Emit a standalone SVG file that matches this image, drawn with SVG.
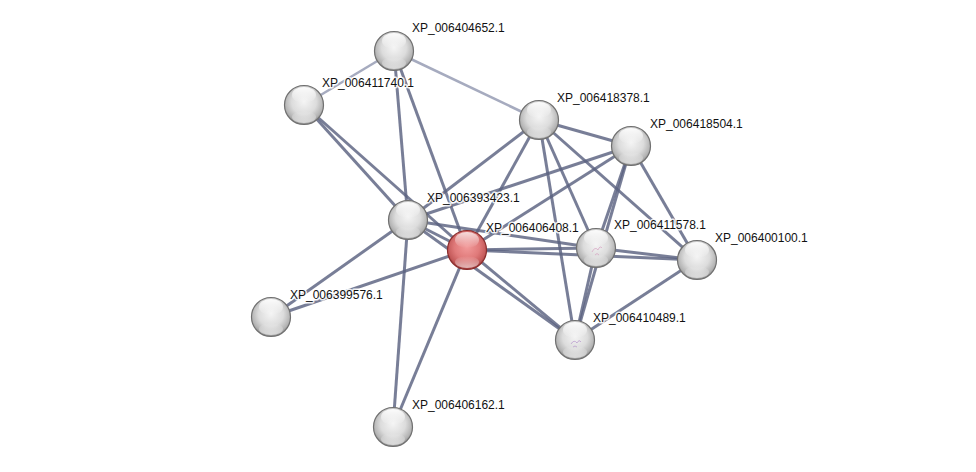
<svg xmlns="http://www.w3.org/2000/svg" width="976" height="472" viewBox="0 0 976 472">
<defs>
<radialGradient id="gw" cx="50%" cy="42%" r="58%">
<stop offset="0" stop-color="#f4f4f4"/>
<stop offset="0.55" stop-color="#dcdcdc"/>
<stop offset="0.85" stop-color="#b4b4b4"/>
<stop offset="1" stop-color="#8c8c8c"/>
</radialGradient>
<radialGradient id="gr" cx="50%" cy="42%" r="58%">
<stop offset="0" stop-color="#f29a9a"/>
<stop offset="0.55" stop-color="#e07a7a"/>
<stop offset="0.85" stop-color="#c45a5a"/>
<stop offset="1" stop-color="#9a3434"/>
</radialGradient>
<linearGradient id="hl" x1="0" y1="0" x2="0" y2="1">
<stop offset="0" stop-color="#fff" stop-opacity="0.95"/>
<stop offset="1" stop-color="#fff" stop-opacity="0"/>
</linearGradient>
<linearGradient id="bl" x1="0" y1="0" x2="0" y2="1">
<stop offset="0" stop-color="#fff" stop-opacity="0"/>
<stop offset="1" stop-color="#fff" stop-opacity="0.6"/>
</linearGradient>
<g id="sph">
<circle r="19.5" fill="url(#gw)" stroke="#707070" stroke-width="1.2"/>
<ellipse cx="0" cy="-10" rx="12" ry="8" fill="url(#hl)"/>
<ellipse cx="0" cy="12" rx="12" ry="6" fill="url(#bl)"/>
</g>
<g id="sphr">
<circle r="19.5" fill="url(#gr)" stroke="#8a2e2e" stroke-width="1.2"/>
<ellipse cx="0" cy="-10" rx="12" ry="8" fill="url(#hl)" opacity="0.8"/>
<ellipse cx="0" cy="12" rx="12" ry="6" fill="url(#bl)"/>
</g>
</defs>
<style>
.e{stroke:#5a6280;stroke-width:3;stroke-opacity:0.82;fill:none}
.l{stroke:#a6abbf;stroke-width:2.5;fill:none}
text{font-family:"Liberation Sans",Arial,sans-serif;font-size:12px;fill:#111;stroke:#fff;stroke-width:3;stroke-opacity:0.85;paint-order:stroke;stroke-linejoin:round}
</style>
<rect width="976" height="472" fill="#fff"/>
<g id="edges">
<line class="l" x1="394" y1="51" x2="304" y2="105"/>
<line class="l" x1="394" y1="51" x2="539" y2="120"/>
<line class="e" x1="394" y1="51" x2="408" y2="220"/>
<line class="e" x1="394" y1="51" x2="467" y2="250"/>
<line class="e" x1="304" y1="105" x2="408" y2="220"/>
<line class="e" x1="304" y1="105" x2="467" y2="250"/>
<line class="e" x1="539" y1="120" x2="408" y2="220"/>
<line class="e" x1="539" y1="120" x2="467" y2="250"/>
<line class="e" x1="539" y1="120" x2="596" y2="248"/>
<line class="e" x1="539" y1="120" x2="575" y2="340"/>
<line class="e" x1="539" y1="120" x2="631" y2="146"/>
<line class="e" x1="539" y1="120" x2="697" y2="260"/>
<line class="e" x1="631" y1="146" x2="408" y2="220"/>
<line class="e" x1="631" y1="146" x2="467" y2="250"/>
<line class="e" x1="631" y1="146" x2="596" y2="248"/>
<line class="e" x1="631" y1="146" x2="575" y2="340"/>
<line class="e" x1="631" y1="146" x2="697" y2="260"/>
<line class="e" x1="408" y1="220" x2="467" y2="250"/>
<line class="e" x1="408" y1="220" x2="596" y2="248"/>
<line class="e" x1="408" y1="220" x2="575" y2="340"/>
<line class="e" x1="408" y1="220" x2="271" y2="317"/>
<line class="e" x1="408" y1="220" x2="393" y2="427"/>
<line class="e" x1="467" y1="250" x2="596" y2="248"/>
<line class="e" x1="467" y1="250" x2="697" y2="260"/>
<line class="e" x1="467" y1="250" x2="575" y2="340"/>
<line class="e" x1="467" y1="250" x2="271" y2="317"/>
<line class="e" x1="467" y1="250" x2="393" y2="427"/>
<line class="e" x1="596" y1="248" x2="697" y2="260"/>
<line class="e" x1="596" y1="248" x2="575" y2="340"/>
<line class="e" x1="575" y1="340" x2="697" y2="260"/>
</g>
<g id="n_XP_006404652"><use href="#sph" x="394" y="51"/><text x="412" y="32">XP_006404652.1</text></g>
<g id="n_XP_006411740"><use href="#sph" x="304" y="105"/><text x="322" y="87">XP_006411740.1</text></g>
<g id="n_XP_006418378"><use href="#sph" x="539" y="120"/><text x="557" y="102">XP_006418378.1</text></g>
<g id="n_XP_006418504"><use href="#sph" x="631" y="146"/><text x="650" y="128">XP_006418504.1</text></g>
<g id="n_XP_006393423"><use href="#sph" x="408" y="220"/><text x="427" y="202">XP_006393423.1</text></g>
<g id="n_XP_006406408"><use href="#sphr" x="467" y="250"/><text x="486" y="232">XP_006406408.1</text></g>
<g id="n_XP_006411578"><use href="#sph" x="596" y="248"/><path d="M592 252 q3 -6 6 -2 q2 -5 4 -2 M595 255 q2 -3 4 0" stroke="#d080b0" stroke-width="0.8" fill="none" opacity="0.6"/><text x="614" y="229">XP_006411578.1</text></g>
<g id="n_XP_006400100"><use href="#sph" x="697" y="260"/><text x="715" y="242">XP_006400100.1</text></g>
<g id="n_XP_006399576"><use href="#sph" x="271" y="317"/><text x="290" y="299">XP_006399576.1</text></g>
<g id="n_XP_006410489"><use href="#sph" x="575" y="340"/><path d="M571 344 q3 -5 6 -1 q2 -4 4 -1 M573 347 q2 -2 4 0" stroke="#a070c0" stroke-width="0.8" fill="none" opacity="0.6"/><text x="593" y="322">XP_006410489.1</text></g>
<g id="n_XP_006406162"><use href="#sph" x="393" y="427"/><text x="412" y="409">XP_006406162.1</text></g>
</svg>
